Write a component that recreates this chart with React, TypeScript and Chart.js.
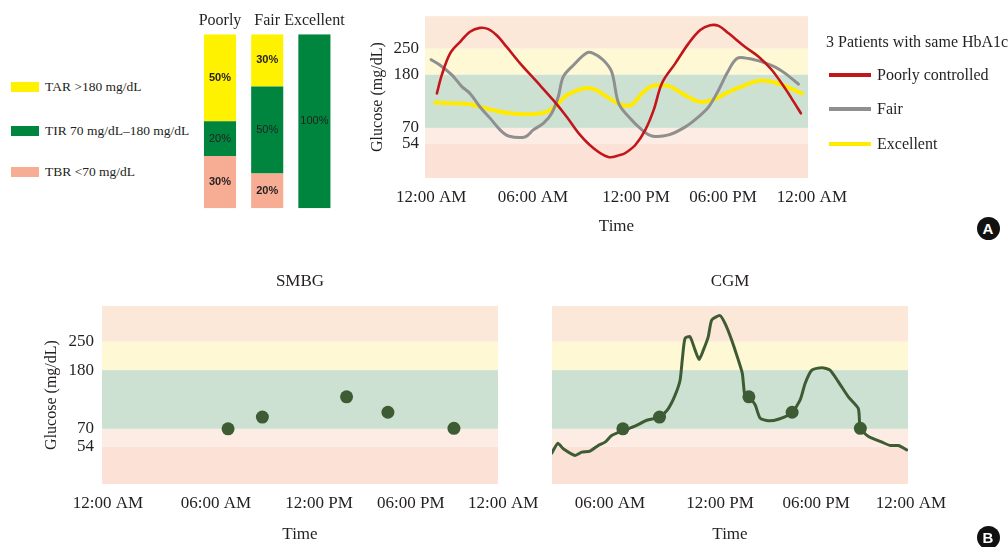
import React, { useEffect, useRef } from "react";
import { Chart, registerables } from "chart.js";

Chart.register(...registerables);

const SERIF = '"Liberation Serif", "Times New Roman", Times, serif';
const SANS = '"Liberation Sans", Arial, Helvetica, sans-serif';
const INK = "#231F20";

// ---------------- data ----------------
const BAR_CATEGORIES = ["Poorly", "Fair", "Excellent"];
const TBR_PCT = [30, 20, 0];
const TIR_PCT = [20, 50, 100];
const TAR_PCT = [50, 30, 0];
const RANGE_LABELS = ["TAR >180 mg/dL", "TIR 70 mg/dL\u2013180 mg/dL", "TBR <70 mg/dL"];

const TIME_TICK_HOURS = [0, 6, 12, 18, 24];
const TIME_TICK_LABELS = ["12:00 AM", "06:00 AM", "12:00 PM", "06:00 PM", "12:00 AM"];
const CGM_TICK_HOURS = [6, 12, 18, 24];
const CGM_TICK_LABELS = ["06:00 AM", "12:00 PM", "06:00 PM", "12:00 AM"];
const GLUCOSE_TICKS = [54, 70, 180, 250];
const GLUCOSE_BANDS = [20, 54, 70, 180, 250, 350];

const SERIES_NAMES = ["Poorly controlled", "Fair", "Excellent"];

const POORLY_HOURS = [0.34, 0.63, 1.12, 1.71, 2.29, 2.88, 3.37, 3.86, 4.45, 5.24, 6.22, 7.18, 7.96, 8.74, 9.51, 10.39, 11.07, 11.38, 11.96, 12.64, 13.22, 13.79, 14.71, 15.63, 16.43, 17.12, 17.7, 18.38, 19.5, 20.41, 21.3, 22.2, 22.77, 23.26];
const POORLY_GLUCOSE = [141, 179, 237, 271, 302, 314, 310, 291, 255, 210, 165, 127, 93, 63, 50, 41, 43, 45, 53, 68, 107, 162, 210, 266, 307, 322, 320, 297, 255, 228, 192, 151, 124, 100];

const FAIR_HOURS = [0, 0.53, 1.22, 1.81, 2.29, 2.88, 3.47, 4.06, 4.55, 5.53, 6.02, 6.6, 7.09, 7.47, 7.76, 8.35, 9.12, 9.51, 10.09, 10.58, 10.99, 11.57, 12.41, 13.1, 14.25, 15.4, 16.32, 17.01, 17.7, 18.27, 18.94, 19.73, 20.63, 21.53, 22.2, 23.1];
const FAIR_GLUCOSE = [220, 205, 179, 155, 141, 113, 90, 68, 62, 61, 68, 79, 100, 134, 175, 205, 238, 237, 219, 187, 120, 93, 68, 62, 63, 72, 93, 113, 148, 183, 223, 223, 214, 200, 183, 160];

const EXCELLENT_HOURS = [0.24, 1.71, 2.49, 3.47, 4.65, 5.82, 6.8, 7.38, 7.96, 8.93, 9.61, 10.29, 11.18, 11.76, 12.41, 13.1, 14.25, 15.17, 16.32, 17.24, 18.38, 19.5, 20.41, 21.3, 22.2, 23.33];
const EXCELLENT_GLUCOSE = [122, 120, 117, 108, 100, 98, 103, 117, 137, 151, 149, 134, 117, 118, 141, 156, 156, 141, 124, 127, 144, 158, 167, 165, 156, 141];

const SMBG_HOURS = [6.7, 8.7, 13.8, 16.5, 20.8];
const SMBG_GLUCOSE = [70, 92, 130, 101, 71];

const CGM_HOURS = [2.82, 3.15, 3.45, 4.09, 4.46, 4.91, 5.36, 5.73, 6.09, 6.82, 7.36, 8.0, 8.73, 9.18, 9.55, 9.82, 9.94, 10.09, 10.36, 10.64, 10.86, 11.09, 11.36, 11.55, 12.0, 12.31, 12.73, 13.14, 13.39, 13.56, 13.81, 14.19, 14.5, 15.02, 15.64, 16.48, 17.0, 17.31, 17.73, 18.36, 18.88, 19.41, 20.04, 20.67, 20.8, 21.32, 22.17, 22.69, 23.21, 23.74];
const CGM_GLUCOSE = [48, 57, 52, 46, 49, 50, 55, 58, 64, 69, 75, 86, 92, 108, 133, 161, 205, 259, 264, 229, 206, 229, 264, 311, 323, 301, 254, 205, 174, 130, 129, 115, 90, 85, 88, 100, 124, 155, 180, 186, 180, 158, 130, 108, 71, 63, 58, 55, 55, 51];

// ---------------- styles / axis geometry ----------------
const YELLOW = "#FFF200";
const GREEN = "#00853F";
const PINK = "#F6AD93";
const RED_LINE = "#C1161C";
const GREY_LINE = "#8F8F8F";
const YELLOW_LINE = "#FFEA00";
const DOT_GREEN = "#3E5C34";
const BAND_COLORS = ["#FCE1D6", "#FCECE4", "#CDE1D3", "#FEF8D5", "#FCE8D8"];

// the glucose axis of the original is schematic (not linear)
const GLUCOSE_AXIS_FRAC = [0, 0.21, 0.31, 0.64, 0.8, 1];
const A_TIME_FRAC = [0.016, 0.282, 0.551, 0.778, 1.01];
const SMBG_TIME_FRAC = [0.015, 0.288, 0.548, 0.78, 1.013];
const CGM_TIME_FRAC = [-0.146, 0.163, 0.472, 0.742, 1.008];

function piecewise(xs: number[], ys: number[]) {
  return (v: number) => {
    let i = 0;
    while (i < xs.length - 2 && v > xs[i + 1]) i++;
    const t = (v - xs[i]) / (xs[i + 1] - xs[i]);
    return ys[i] + t * (ys[i + 1] - ys[i]);
  };
}
const gy = piecewise(GLUCOSE_BANDS, GLUCOSE_AXIS_FRAC);

const bandsPlugin = {
  id: "glucoseBands",
  beforeDatasetsDraw(chart: any) {
    const { ctx, chartArea: a, scales } = chart;
    const y = scales.y;
    ctx.save();
    for (let i = 0; i < GLUCOSE_BANDS.length - 1; i++) {
      const y0 = y.getPixelForValue(gy(GLUCOSE_BANDS[i]));
      const y1 = y.getPixelForValue(gy(GLUCOSE_BANDS[i + 1]));
      ctx.fillStyle = BAND_COLORS[i];
      ctx.fillRect(a.left, y1, a.right - a.left, y0 - y1);
    }
    ctx.restore();
  },
};

const barLabelPlugin = {
  id: "barLabels",
  afterDatasetsDraw(chart: any) {
    const ctx = chart.ctx;
    chart.data.datasets.forEach((ds: any, di: number) => {
      const meta = chart.getDatasetMeta(di);
      meta.data.forEach((el: any, i: number) => {
        const v = ds.data[i];
        if (!v) return;
        const { x, y, base } = el.getProps(["x", "y", "base"], true);
        ctx.save();
        ctx.font = `${ds.label === "TIR" ? "" : "bold "}11px ${SANS}`;
        ctx.fillStyle = INK;
        ctx.textAlign = "center";
        ctx.textBaseline = "middle";
        ctx.fillText(v + "%", x, (y + base) / 2);
        ctx.restore();
      });
    });
  },
};

type Series = { label: string; hours: number[]; glucose: number[]; color: string; width?: number; line: boolean; radius?: number; tension?: number };

type PanelOpts = {
  timeFrac: number[];
  tickHours: number[];
  tickLabels: string[];
  series: Series[];
  title?: string;
  titlePad?: { top: number; bottom: number };
  padding: { left: number; right: number; top: number; bottom: number };
  yAxis: boolean;
  yWidth: number;
  yTitlePad: number;
  yTickPad: number;
  xHeight: number;
  xTickPad: number;
  xTitlePad: number;
};

function glucoseConfig(o: PanelOpts): any {
  const fx = piecewise(TIME_TICK_HOURS, o.timeFrac);
  const tickFont = { family: SERIF, size: 17 };
  return {
    type: "line",
    data: {
      datasets: o.series.map((s) => ({
        label: s.label,
        data: s.hours.map((h, i) => ({ x: fx(h), y: gy(s.glucose[i]) })),
        borderColor: s.color,
        backgroundColor: s.color,
        borderWidth: s.line ? s.width : 0,
        showLine: s.line,
        pointRadius: s.line ? 0 : s.radius,
        pointHoverRadius: 0,
        tension: s.tension ?? 0.35,
        fill: false,
        borderCapStyle: "round",
        borderJoinStyle: "round",
      })),
    },
    options: {
      responsive: false,
      animation: false,
      events: [],
      layout: { padding: o.padding },
      plugins: {
        legend: { display: false },
        tooltip: { enabled: false },
        title: o.title
          ? { display: true, text: o.title, fullSize: false, color: INK, font: { family: SERIF, size: 17, weight: "normal" }, padding: o.titlePad }
          : { display: false },
      },
      scales: {
        x: {
          type: "linear",
          min: 0,
          max: 1,
          grid: { display: false, drawTicks: false },
          border: { display: false },
          afterBuildTicks: (s: any) => {
            s.ticks = o.tickHours.map((h) => ({ value: fx(h) }));
          },
          afterFit: (s: any) => {
            s.height = o.xHeight;
          },
          ticks: {
            autoSkip: false,
            maxRotation: 0,
            minRotation: 0,
            padding: o.xTickPad,
            color: INK,
            font: tickFont,
            callback: (_v: any, i: number) => o.tickLabels[i],
          },
          title: { display: true, text: "Time", color: INK, font: tickFont, padding: { top: 0, bottom: o.xTitlePad } },
        },
        y: {
          type: "linear",
          min: 0,
          max: 1,
          display: o.yAxis,
          grid: { display: false, drawTicks: false },
          border: { display: false },
          afterBuildTicks: (s: any) => {
            s.ticks = GLUCOSE_TICKS.map((g) => ({ value: gy(g) }));
          },
          afterFit: (s: any) => {
            s.width = o.yWidth;
          },
          ticks: {
            autoSkip: false,
            padding: o.yTickPad,
            color: INK,
            font: tickFont,
            callback: (_v: any, i: number) => String(GLUCOSE_TICKS[i]),
          },
          title: {
            display: true,
            text: "Glucose (mg/dL)",
            color: INK,
            font: { family: SERIF, size: 16 },
            padding: { top: o.yTitlePad, bottom: 0 },
          },
        },
      },
    },
    plugins: [bandsPlugin],
  };
}

function barConfig(): any {
  return {
    type: "bar",
    data: {
      labels: BAR_CATEGORIES,
      datasets: [
        { label: "TBR", data: TBR_PCT, backgroundColor: PINK },
        { label: "TIR", data: TIR_PCT, backgroundColor: GREEN },
        { label: "TAR", data: TAR_PCT, backgroundColor: YELLOW },
      ],
    },
    options: {
      responsive: false,
      animation: false,
      events: [],
      layout: { padding: { left: 16.4, right: 22, top: 0, bottom: 6.7 } },
      datasets: { bar: { categoryPercentage: 0.68, barPercentage: 1, borderWidth: 0 } },
      plugins: { legend: { display: false }, tooltip: { enabled: false } },
      scales: {
        x: {
          stacked: true,
          position: "top",
          grid: { display: false, drawTicks: false },
          border: { display: false },
          afterFit: (s: any) => {
            s.height = 34.3;
          },
          ticks: { padding: 4, color: INK, font: { family: SERIF, size: 16 }, maxRotation: 0, autoSkip: false },
        },
        y: { stacked: true, display: false, min: 0, max: 100 },
      },
    },
    plugins: [barLabelPlugin],
  };
}

function ChartCanvas(props: { left: number; top: number; width: number; height: number; make: () => any }) {
  const ref = useRef<HTMLCanvasElement>(null);
  useEffect(() => {
    const chart = new Chart(ref.current as HTMLCanvasElement, props.make());
    return () => chart.destroy();
  }, []);
  return (
    <canvas
      ref={ref}
      width={props.width}
      height={props.height}
      style={{ position: "absolute", left: props.left, top: props.top, width: props.width, height: props.height }}
    />
  );
}

const RANGE_COLORS = [YELLOW, GREEN, PINK];
const RANGE_ROW_Y = [87, 131, 171.5];
const SERIES_COLORS = [RED_LINE, GREY_LINE, YELLOW_LINE];
const SERIES_ROW_Y = [75, 108.5, 144];

function Badge(props: { letter: string; cx: number; cy: number }) {
  return (
    <div
      style={{
        position: "absolute",
        left: props.cx - 11.5,
        top: props.cy - 11.5,
        width: 23,
        height: 23,
        borderRadius: "50%",
        background: "#111",
        color: "#fff",
        font: `bold 15px ${SANS}`,
        display: "flex",
        alignItems: "center",
        justifyContent: "center",
      }}
    >
      {props.letter}
    </div>
  );
}

export default function App() {
  const panelA = () =>
    glucoseConfig({
      timeFrac: A_TIME_FRAC,
      tickHours: TIME_TICK_HOURS,
      tickLabels: TIME_TICK_LABELS,
      series: [
        { label: SERIES_NAMES[0], hours: POORLY_HOURS, glucose: POORLY_GLUCOSE, color: RED_LINE, width: 2.6, line: true },
        { label: SERIES_NAMES[1], hours: FAIR_HOURS, glucose: FAIR_GLUCOSE, color: GREY_LINE, width: 3, line: true },
        { label: SERIES_NAMES[2], hours: EXCELLENT_HOURS, glucose: EXCELLENT_GLUCOSE, color: YELLOW_LINE, width: 4, line: true },
      ],
      padding: { left: 0, right: 60, top: 16, bottom: 0 },
      yAxis: true,
      yWidth: 65,
      yTitlePad: 8,
      yTickPad: 6,
      xHeight: 62,
      xTickPad: 9,
      xTitlePad: 3,
    });

  const smbg = () =>
    glucoseConfig({
      timeFrac: SMBG_TIME_FRAC,
      tickHours: TIME_TICK_HOURS,
      tickLabels: TIME_TICK_LABELS,
      series: [{ label: "SMBG", hours: SMBG_HOURS, glucose: SMBG_GLUCOSE, color: DOT_GREEN, line: false, radius: 6.5 }],
      title: "SMBG",
      titlePad: { top: 11, bottom: 14.6 },
      padding: { left: 0, right: 60, top: 0, bottom: 0 },
      yAxis: true,
      yWidth: 102,
      yTitlePad: 42,
      yTickPad: 8,
      xHeight: 63,
      xTickPad: 9,
      xTitlePad: 2.5,
    });

  const cgm = () =>
    glucoseConfig({
      timeFrac: CGM_TIME_FRAC,
      tickHours: CGM_TICK_HOURS,
      tickLabels: CGM_TICK_LABELS,
      series: [
        { label: "SMBG", hours: SMBG_HOURS, glucose: SMBG_GLUCOSE, color: DOT_GREEN, line: false, radius: 6.5 },
        { label: "CGM", hours: CGM_HOURS, glucose: CGM_GLUCOSE, color: DOT_GREEN, width: 3, line: true, tension: 0.2 },
      ],
      title: "CGM",
      titlePad: { top: 11, bottom: 14.6 },
      padding: { left: 32, right: 60, top: 0, bottom: 0 },
      yAxis: false,
      yWidth: 0,
      yTitlePad: 0,
      yTickPad: 0,
      xHeight: 63,
      xTickPad: 9,
      xTitlePad: 2.5,
    });

  return (
    <div style={{ position: "absolute", left: 0, top: 0, width: 1008, height: 547, background: "#fff", overflow: "hidden", color: INK }}>
      {RANGE_LABELS.map((t, i) => (
        <div
          key={t}
          style={{
            position: "absolute",
            left: 11,
            top: RANGE_ROW_Y[i] - 10,
            height: 20,
            display: "flex",
            alignItems: "center",
            whiteSpace: "nowrap",
            font: `13.5px ${SERIF}`,
          }}
        >
          <span style={{ display: "inline-block", width: 28, height: 10, background: RANGE_COLORS[i], marginRight: 6 }} />
          {t}
        </div>
      ))}
      <ChartCanvas left={180} top={0} width={180} height={215} make={barConfig} />
      <ChartCanvas left={360} top={0} width={508} height={240} make={panelA} />
      <div style={{ position: "absolute", left: 826, top: 33, height: 20, lineHeight: "20px", font: `16px ${SERIF}`, whiteSpace: "nowrap" }}>
        3 Patients with same HbA1c
      </div>
      {SERIES_NAMES.map((n, i) => (
        <div
          key={n}
          style={{
            position: "absolute",
            left: 829,
            top: SERIES_ROW_Y[i] - 10,
            height: 20,
            display: "flex",
            alignItems: "center",
            whiteSpace: "nowrap",
            font: `16px ${SERIF}`,
          }}
        >
          <span style={{ display: "inline-block", width: 42, height: 4, background: SERIES_COLORS[i], marginRight: 6 }} />
          {n}
        </div>
      ))}
      <Badge letter="A" cx={988} cy={228} />
      <ChartCanvas left={0} top={260} width={558} height={287} make={smbg} />
      <ChartCanvas left={520} top={260} width={448} height={287} make={cgm} />
      <Badge letter="B" cx={988} cy={537} />
    </div>
  );
}
